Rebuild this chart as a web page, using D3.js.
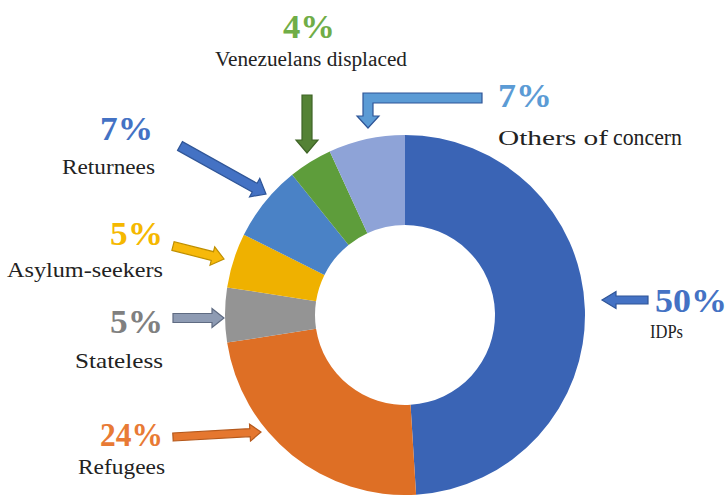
<!DOCTYPE html>
<html>
<head>
<meta charset="utf-8">
<script src="https://cdn.jsdelivr.net/npm/d3@7"></script>
<style>
  html, body { margin: 0; padding: 0; background: #fff; }
  svg { display: block; }
</style>
</head>
<body>
<svg id="chart" width="727" height="495"></svg>
<script>
// Persons of concern, share by population group (clockwise from 12 o'clock)
const categories = ["IDPs", "Refugees", "Stateless", "Asylum-seekers", "Returnees", "Venezuelans displaced", "Others of concern"];
const shares = [50, 24, 5, 5, 7, 4, 7];
const shareLabels = ["50%", "24%", "5%", "5%", "7%", "4%", "7%"];

// Styling
const serif = "'Liberation Serif', Tinos, 'Times New Roman', Times, serif";
const sliceColors = ["#3A64B5", "#DE6F25", "#949494", "#EFB100", "#4A82C6", "#5E9D3B", "#8EA3D7"];
const labelColors = ["#4472C4", "#E87A35", "#808080", "#F5B800", "#4472C4", "#70AD47", "#5B9BD5"];
const arrowFill   = ["#4472C4", "#E5772F", "#8E9BB3", "#F7B90B", "#4472C4", "#548235", "#5B9BD5"];
const arrowStroke = ["#2F5597", "#B5591C", "#5F6B82", "#BF8F00", "#2F5597", "#3F6427", "#2F5597"];

// Callout layout: percent text, name text and arrow for each group
const callouts = [
  { pct: [655, 312, 72], name: [650, 338, 33, 18], arrow: [[648, 300], [602, 300], 8, 17, 14] },
  { pct: [100, 446, 63], name: [78, 474, 87, 21], arrow: [[173, 437], [261, 432], 8, 17, 11] },
  { pct: [110, 333, 53], name: [75, 368, 88, 21], arrow: [[173, 318], [224, 318], 9, 19, 12] },
  { pct: [110, 245, 53], name: [7, 277, 156, 21], arrow: [[173, 246], [224, 259], 9, 19, 12] },
  { pct: [100, 140, 53], name: [62, 174, 93, 21], arrow: [[180, 146], [266, 194], 10, 21, 13] },
  { pct: [283, 38, 52], name: [215, 66, 192, 20], arrow: [[307, 95], [307, 153], 10, 22, 13] },
  { pct: [498, 107, 54], name: null, arrow: null }
];

const svg = d3.select("#chart");
const cx = 405, cy = 315, outerR = 180, innerR = 90;

const pie = d3.pie().sort(null).value(d => d.value);
const arc = d3.arc().innerRadius(innerR).outerRadius(outerR);
const rows = categories.map((c, i) => ({ name: c, value: shares[i], label: shareLabels[i], i }));

svg.append("g")
  .attr("transform", `translate(${cx},${cy})`)
  .selectAll("path")
  .data(pie(rows))
  .join("path")
  .attr("d", arc)
  .attr("fill", d => sliceColors[d.data.i]);

// Block arrow from tail to tip
function blockArrow(tail, tip, sw, hw, hl) {
  const dx = tip[0] - tail[0], dy = tip[1] - tail[1];
  const len = Math.hypot(dx, dy);
  const ux = dx / len, uy = dy / len, nx = -uy, ny = ux;
  const neck = [tip[0] - ux * hl, tip[1] - uy * hl];
  const p = [
    [tail[0] + nx * sw / 2, tail[1] + ny * sw / 2],
    [neck[0] + nx * sw / 2, neck[1] + ny * sw / 2],
    [neck[0] + nx * hw / 2, neck[1] + ny * hw / 2],
    tip,
    [neck[0] - nx * hw / 2, neck[1] - ny * hw / 2],
    [neck[0] - nx * sw / 2, neck[1] - ny * sw / 2],
    [tail[0] - nx * sw / 2, tail[1] - ny * sw / 2]
  ];
  return d3.line()(p) + "Z";
}

const ann = svg.append("g");

function addText(x, y, size, len, fill, str, bold) {
  return ann.append("text")
    .attr("x", x).attr("y", y)
    .attr("font-family", serif)
    .attr("font-size", size)
    .attr("font-weight", bold ? "bold" : "normal")
    .attr("textLength", len).attr("lengthAdjust", "spacingAndGlyphs")
    .attr("fill", fill)
    .text(str);
}

rows.forEach((r, i) => {
  const c = callouts[i];
  if (c.arrow) {
    const [tail, tip, sw, hw, hl] = c.arrow;
    ann.append("path")
      .attr("d", blockArrow(tail, tip, sw, hw, hl))
      .attr("fill", arrowFill[i])
      .attr("stroke", arrowStroke[i])
      .attr("stroke-width", 1.2);
  }
  addText(c.pct[0], c.pct[1], 33, c.pct[2], labelColors[i], r.label, true);
  if (c.name) addText(c.name[0], c.name[1], c.name[3], c.name[2], "#222", r.name, false);
});

// "Others of concern": bent arrow and two-size caption
const oi = categories.indexOf("Others of concern");
const bent = [[482, 93], [363, 93], [363, 116], [357, 116], [368, 128], [379, 116], [373, 116], [373, 103], [482, 103]];
ann.append("path")
  .attr("d", d3.line()(bent) + "Z")
  .attr("fill", arrowFill[oi])
  .attr("stroke", arrowStroke[oi])
  .attr("stroke-width", 1.2);
const words = categories[oi].split(" ");
addText(498, 145, 20, 110, "#222", words.slice(0, 2).join(" "), false);
addText(613, 145, 23, 69, "#222", words[2], false);
</script>
</body>
</html>
